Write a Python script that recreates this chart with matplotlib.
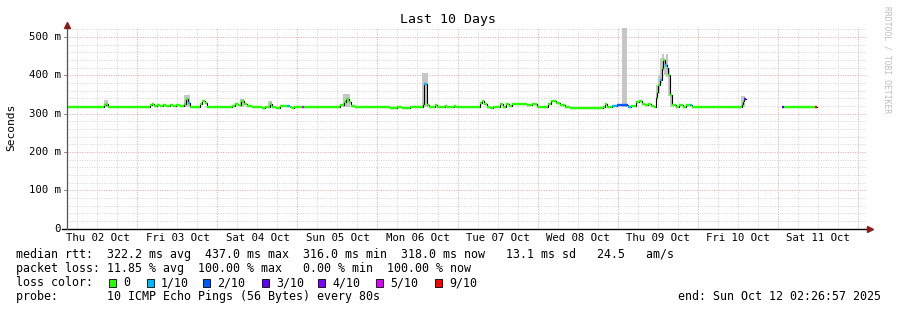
import numpy as np
import matplotlib
matplotlib.use("Agg")
import matplotlib.pyplot as plt
from matplotlib.transforms import blended_transform_factory

# hours since Thu 02 Oct 00:00, median rtt (ms), loss (x/10); NaN = no data
t_hours = [2.8, 14.0, 14.6, 15.2, 27.8, 28.4, 29.0, 29.9, 30.8, 31.7, 32.6, 33.8,
           34.7, 35.6, 36.8, 38.0, 38.6, 39.2, 39.8, 42.8, 43.4, 44.3, 44.9, 52.4,
           53.3, 54.2, 55.1, 56.0, 56.9, 58.4, 59.6, 61.4, 62.3, 63.8, 64.4, 65.6,
           66.8, 68.9, 69.8, 70.4, 71.0, 73.4, 74.0, 84.8, 86.0, 86.6, 87.5, 88.1,
           89.3, 99.8, 101.9, 103.4, 105.8, 109.7, 110.0, 110.6, 110.9, 111.5, 113.3,
           113.9, 116.3, 116.9, 118.4, 119.0, 119.6, 126.8, 127.4, 128.0, 128.9,
           129.8, 130.7, 132.8, 133.7, 134.6, 135.5, 136.4, 137.3, 140.9, 142.4,
           143.9, 147.2, 148.1, 149.6, 150.8, 152.3, 153.8, 163.7, 164.3, 164.9,
           166.4, 167.9, 171.2, 172.1, 173.6, 174.5, 175.4, 176.3, 177.2, 178.1,
           179.0, 179.6, 179.9, 180.2, 180.8, 181.4, 181.7, 182.3, 182.9, 183.2,
           183.8, 184.4, 185.6, 186.5, 187.7, 188.6, 189.8, 190.4, 205.4, 205.7,
           206.0, 206.5, 217.4, 218.0, 218.6, 227.3, 227.9]
median_ms = [318, 322, 326, 318, 322, 325, 320, 323, 319, 322, 321, 323,
             320, 323, 319, 326, 338, 328, 318, 326, 332, 328, 318, 320,
             326, 322, 333, 324, 320, 318, 316, 314, 317, 324, 318, 315,
             319, 320, 318, 314, 318, 316, 318, 322, 330, 338, 330, 320,
             318, 314, 316, 314, 316, 325, 378, 378, 322, 318, 322,
             318, 320, 316, 316, 320, 316, 328, 334, 324, 318,
             314, 318, 324, 318, 326, 320, 324, 326, 322, 324,
             318, 326, 332, 328, 322, 318, 314, 318, 324, 318,
             320, 323, 318, 320, 330, 334, 326, 322, 326, 320,
             316, 343, 356, 374, 387, 419, 440, 427, 419, 400,
             348, 322, 316, 322, 318, 322, 323, 318, 326, 332,
             338, np.nan, 318, 316, 318, 318, np.nan]
loss = [0, 0, 0, 0, 0, 0, 0, 0, 0, 0, 0, 0,
        0, 0, 0, 0, 0, 1, 0, 0, 0, 0, 0, 0,
        0, 0, 0, 0, 0, 0, 0, 0, 0, 0, 0, 0,
        0, 1, 0, 0, 0, 5, 0, 0, 0, 0, 0, 0,
        0, 0, 0, 0, 0, 0, 1, 1, 0, 0, 0,
        0, 0, 0, 0, 0, 0, 0, 0, 0, 0,
        0, 0, 0, 0, 0, 0, 0, 0, 0, 0,
        0, 0, 0, 0, 0, 0, 0, 0, 0, 0,
        1, 2, 1, 0, 0, 0, 0, 0, 0, 0,
        0, 0, 0, 0, 1, 0, 0, 1, 1, 0,
        0, 0, 0, 0, 0, 0, 1, 0, 0, 0,
        3, 0, 3, 0, 0, 9, 0]

# smoke (spread of the pings) where it is visible
smoke_t0 = [14.0, 38.0, 54.8, 63.2, 85.7, 109.4, 169.3, 179.6, 180.2, 180.8,
            181.4, 182.0, 182.6, 183.2, 183.8, 205.1]
smoke_t1 = [15.2, 39.8, 56.0, 64.4, 87.8, 111.2, 170.8, 180.2, 180.8, 181.4,
            182.0, 182.6, 183.2, 183.8, 184.4, 206.3]
smoke_lo = [318, 318, 318, 318, 318, 318, 318, 335, 350, 380,
            410, 400, 395, 345, 318, 318]
smoke_hi = [336, 348, 338, 332, 350, 405, 524, 375, 400, 445,
            455, 440, 455, 420, 350, 345]

day_labels = ["Thu 02 Oct", "Fri 03 Oct", "Sat 04 Oct", "Sun 05 Oct", "Mon 06 Oct",
              "Tue 07 Oct", "Wed 08 Oct", "Thu 09 Oct", "Fri 10 Oct", "Sat 11 Oct"]
loss_names = ["0", "1/10", "2/10", "3/10", "4/10", "5/10", "9/10"]
loss_colors = {0: "#26ff00", 1: "#00b8ff", 2: "#0059ff", 3: "#5e00ff",
               4: "#7e00ff", 5: "#dd00ff", 9: "#ff0000"}
loss_keys = [0, 1, 2, 3, 4, 5, 9]

W, H = 897, 310
fig = plt.figure(figsize=(W / 100, H / 100), dpi=100)
fig.patch.set_facecolor("white")
mono = "DejaVu Sans Mono"


def px(x, y):
    return x / W, 1 - y / H


ax = fig.add_axes([66.7 / W, (H - 228.5) / H, (867 - 66.7) / W, (228.5 - 27) / H])
ax.set_xlim(2.8, 242.8)
ax.set_ylim(0, 526)
for s in ax.spines.values():
    s.set_visible(False)

# grid
grid_ls = (0, (1, 1.5))
for h in range(6, 243, 6):
    if h % 24:
        ax.axvline(h, color="#d2d2d2", lw=0.7, ls=grid_ls, zorder=0)
for v in range(20, 527, 20):
    if v % 100:
        ax.axhline(v, color="#d2d2d2", lw=0.7, ls=grid_ls, zorder=0)
for h in range(24, 243, 24):
    ax.axvline(h, color="#e6a4a4", lw=0.7, ls=grid_ls, zorder=0.5)
for v in range(100, 527, 100):
    ax.axhline(v, color="#e6a4a4", lw=0.7, ls=grid_ls, zorder=0.5)

# smoke
for a, b, lo, hi in zip(smoke_t0, smoke_t1, smoke_lo, smoke_hi):
    ax.fill_between([a, b], lo, hi, color="#c6c6c6", lw=0, zorder=1)

# median line: thin black steps, colored by loss on top
t = np.array(t_hours)
m = np.array(median_ms, dtype=float)
ax.plot(t, m, drawstyle="steps-post", color="black", lw=0.8, zorder=2)
for i in range(len(t) - 1):
    if not np.isnan(m[i]):
        ax.hlines(m[i], t[i], t[i + 1], color=loss_colors[loss[i]], lw=1.7, zorder=3)

# axes lines and arrows
ax.plot([1.4, 242.8], [0, 0], color="black", lw=1, clip_on=False, zorder=4)
ax.plot([2.8, 2.8], [0, 526], color="#555555", lw=0.9, clip_on=False, zorder=4)
ax.plot([2.8], [532], marker="^", color="#8b1c1c", ms=4, clip_on=False, zorder=5)
ax.plot([243.6], [0], marker=">", color="#8b1c1c", ms=4, clip_on=False, zorder=5)

ax.set_xticks([])
ax.set_yticks([])
for k, lab in enumerate(day_labels):
    ax.text(12 + 24 * k, -24, lab, ha="center", va="center", fontsize=7.7,
            family=mono)
ytr = blended_transform_factory(fig.transFigure, ax.transData)
for v in range(0, 527, 100):
    lab = "0" if v == 0 else f"{v} m"
    ax.text(60.5 / W, v, lab, ha="right", va="center", fontsize=7.7,
            family=mono, transform=ytr)
    ax.plot([1.9, 2.8], [v, v], color="#777777", lw=0.6, clip_on=False)

fig.text(*px(11, 127), "Seconds", rotation=90, ha="center", va="center",
         fontsize=8.1, family=mono)
fig.text(*px(447.5, 19.5), "Last 10 Days", ha="center", va="center",
         fontsize=9.5, family=mono)
fig.text(*px(887, 60), "RRDTOOL / TOBI OETIKER", rotation=270, ha="center",
         va="center", fontsize=5.8, family=mono, color="#bdbdbd")

# legend / stats block
fs = 8.35
rows = [
    "median rtt:  322.2 ms avg  437.0 ms max  316.0 ms min  318.0 ms now   13.1 ms sd   24.5   am/s",
    "packet loss: 11.85 % avg  100.00 % max   0.00 % min  100.00 % now",
    "loss color:",
    "probe:       10 ICMP Echo Pings (56 Bytes) every 80s",
]
for r, txt in enumerate(rows):
    fig.text(*px(16, 254.5 + 14.1 * r), txt, ha="left", va="center",
             fontsize=fs, family=mono)
fig.text(*px(881, 296.8), "end: Sun Oct 12 02:26:57 2025", ha="right",
         va="center", fontsize=fs, family=mono)

sq_x = [109, 147, 203, 262, 318, 376, 435]
for x0, key, name in zip(sq_x, loss_keys, loss_names):
    fig.patches.append(plt.Rectangle(px(x0, 287), 7 / W, 8 / H,
                                     transform=fig.transFigure,
                                     facecolor=loss_colors[key],
                                     edgecolor="black", lw=0.6))
    fig.text(*px(x0 + 14, 282.6), name, ha="left", va="center",
             fontsize=fs, family=mono)

fig.savefig("out.png", dpi=100)
